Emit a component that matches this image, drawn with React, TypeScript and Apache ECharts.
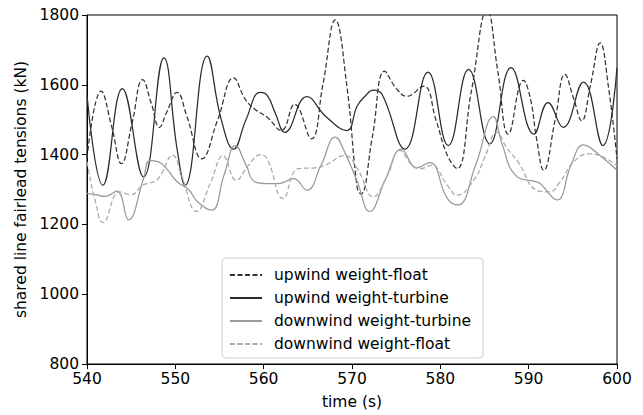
import React, { useEffect, useRef } from "react";
import * as echarts from "echarts";

const seriesNames = [
  "upwind weight-float",
  "upwind weight-turbine",
  "downwind weight-turbine",
  "downwind weight-float",
];

const xTicks = { min: 540, max: 600, interval: 10 };
const yTicks = { min: 800, max: 1800, interval: 200 };

const upwindFloat: [number, number][] = [
  [540, 1390], [541.6, 1582], [542.8, 1480], [543.9, 1374], [545.1, 1490], [546.3, 1615],
  [547.3, 1545], [548.2, 1478], [549.0, 1520], [550.2, 1578], [551.3, 1510], [553.0, 1388],
  [554.8, 1500], [556.6, 1620], [557.9, 1559], [559.0, 1530], [560.4, 1507], [562.0, 1469],
  [563.5, 1544], [565.4, 1445], [566.7, 1600], [568.1, 1786], [569.4, 1600], [570.6, 1303],
  [571.0, 1287], [572.3, 1450], [573.7, 1639], [575.0, 1590], [576.2, 1567], [578.1, 1596],
  [579.5, 1500], [580.8, 1397], [581.9, 1360], [583.5, 1580], [585.3, 1815], [586.5, 1640],
  [587.7, 1459], [589.4, 1613], [590.2, 1560], [590.9, 1445], [591.7, 1355], [593.0, 1500],
  [594.1, 1630], [595.1, 1560], [596.0, 1497], [597.0, 1600], [598.1, 1720], [599.0, 1600],
  [600, 1388],
];

const upwindTurbine: [number, number][] = [
  [540, 1570], [541.8, 1312], [544.0, 1589], [546.4, 1336], [548.7, 1677], [550.2, 1416],
  [551.1, 1312], [553.6, 1682], [555.2, 1500], [556.6, 1416], [558.0, 1500], [559.6, 1578],
  [560.4, 1570], [561.3, 1520], [562.4, 1464], [564.9, 1566], [567.0, 1510], [569.4, 1469],
  [570.6, 1540], [571.5, 1568], [572.4, 1585], [573.4, 1573], [576.0, 1416], [578.6, 1636],
  [580.9, 1426], [583.2, 1644], [585.6, 1431], [588.0, 1649], [590.6, 1459], [592.2, 1549],
  [593.9, 1478], [596.2, 1608], [598.4, 1426], [600, 1649],
];

const downwindTurbine: [number, number][] = [
  [540, 1289], [541, 1285], [542, 1280], [543.4, 1295], [544.7, 1213], [546.4, 1331],
  [547.1, 1383], [548.1, 1379], [549.0, 1360], [550.2, 1322], [551.5, 1300], [552.5, 1265],
  [554.1, 1241], [555.5, 1340], [556.8, 1426], [558.0, 1370], [559.0, 1322], [560.4, 1317],
  [561.7, 1317], [563.4, 1331], [564.9, 1298], [566.5, 1370], [568.1, 1450], [569.3, 1400],
  [570.6, 1322], [572.0, 1237], [573.8, 1330], [575.6, 1416], [577.3, 1362], [578.8, 1377],
  [580.8, 1274], [582.0, 1256], [584.0, 1370], [586.0, 1509], [587.0, 1430], [588.5, 1341],
  [590.9, 1322], [591.3, 1317], [593.2, 1270], [594.8, 1370], [596.2, 1428], [598.1, 1397],
  [600, 1355],
];

const downwindFloat: [number, number][] = [
  [540, 1379], [541, 1260], [541.8, 1205], [543.7, 1293], [545.0, 1285], [546.3, 1312],
  [548.0, 1330], [549.7, 1398], [550.7, 1340], [552.4, 1237], [554.0, 1320], [555.4, 1397],
  [556.9, 1326], [558.3, 1370], [559.6, 1399], [560.4, 1388], [562.2, 1274], [563.9, 1360],
  [565.8, 1362], [567.0, 1370], [569.2, 1397], [570.6, 1360], [572.4, 1279], [574.0, 1340],
  [575.4, 1412], [576.8, 1370], [577.8, 1360], [579.0, 1369], [580.8, 1312], [581.9, 1284],
  [583.9, 1331], [585.0, 1390], [586.4, 1464], [587.5, 1420], [588.8, 1379], [590.9, 1298],
  [592.4, 1293], [593.5, 1320], [595.1, 1379], [596.8, 1402], [598.1, 1397], [600, 1368],
];

const FONT = "DejaVu Sans";
const FS = 15.5;

export default function App() {
  const ref = useRef<HTMLDivElement>(null);
  useEffect(() => {
    if (!ref.current) return;
    const chart = echarts.init(ref.current, undefined, { renderer: "svg" });
    const mk = (name: string, data: [number, number][], color: string, type: any, width: number) => ({
      name,
      type: "line",
      data,
      smooth: 0.45,
      symbol: "none",
      showSymbol: false,
      clip: true,
      lineStyle: { color, type, width },
      itemStyle: { color },
    });
    chart.setOption({
      animation: false,
      textStyle: { fontFamily: FONT },
      grid: {
        left: 87, right: 26, top: 15, bottom: 48,
        show: true, borderColor: "#000", borderWidth: 1, backgroundColor: "transparent",
      },
      xAxis: {
        type: "value",
        min: xTicks.min, max: xTicks.max, interval: xTicks.interval,
        name: "time (s)", nameLocation: "middle", nameGap: 30,
        nameTextStyle: { fontSize: FS, color: "#000", fontFamily: FONT },
        axisLine: { show: true, lineStyle: { color: "#000", width: 1 } },
        axisTick: { show: true, length: 5, lineStyle: { color: "#000" } },
        axisLabel: { fontSize: FS, color: "#000", margin: 7, fontFamily: FONT, formatter: (v: number) => String(v) },
        splitLine: { show: false },
      },
      yAxis: {
        type: "value",
        min: yTicks.min, max: yTicks.max, interval: yTicks.interval,
        name: "shared line fairlead tensions (kN)", nameLocation: "middle", nameGap: 57,
        nameTextStyle: { fontSize: FS, color: "#000", fontFamily: FONT },
        axisLine: { show: true, lineStyle: { color: "#000", width: 1 } },
        axisTick: { show: true, length: 5, lineStyle: { color: "#000" } },
        axisLabel: { fontSize: FS, color: "#000", margin: 8, fontFamily: FONT, formatter: (v: number) => String(v) },
        splitLine: { show: false },
      },
      legend: {
        orient: "vertical",
        left: 222,
        top: 258,
        padding: [9, 12, 6, 7],
        itemGap: 7,
        itemWidth: 32,
        itemHeight: 15,
        itemStyle: { opacity: 0 },
        backgroundColor: "rgba(255,255,255,0.85)",
        borderColor: "#ccc",
        borderWidth: 1,
        borderRadius: 4,
        textStyle: { fontSize: FS, color: "#000", fontFamily: FONT, padding: [0, 0, 0, 7] },
        data: seriesNames,
      },
      series: [
        mk(seriesNames[0], upwindFloat, "#333333", [5, 2.5], 1.25),
        mk(seriesNames[1], upwindTurbine, "#2b2b2b", "solid", 1.25),
        mk(seriesNames[2], downwindTurbine, "#999999", "solid", 1.25),
        mk(seriesNames[3], downwindFloat, "#aaaaaa", [5, 2.5], 1.25),
      ],
    });
    return () => chart.dispose();
  }, []);
  return (
    <div
      ref={ref}
      style={{ position: "fixed", left: 0, top: 0, width: 643, height: 415, background: "#fff" }}
    />
  );
}
